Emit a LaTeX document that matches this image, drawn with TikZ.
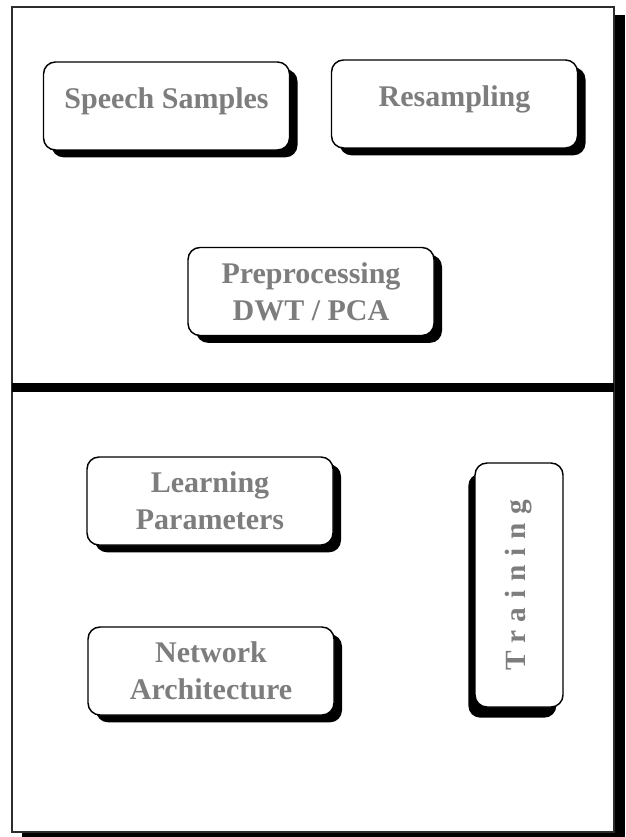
\documentclass[tikz,border=0pt]{standalone}
\usepackage{fontspec}
\setmainfont{Liberation Serif}
\usepackage{xcolor}
\usetikzlibrary{shadows}
\definecolor{LabelGray}{RGB}{125, 125, 125}
\definecolor{FrameDark}{RGB}{45, 45, 45}

\begin{document}
\begin{tikzpicture}[x=0.75pt, y=-0.75pt,
    stagebox/.style={draw=black, line width=1.1pt, rounded corners=9pt, fill=white,
      minimum width=184.5pt, minimum height=66pt, align=center,
      font=\fontsize{22.5}{27.5}\selectfont\bfseries\color{LabelGray}},
    stage/.style={stagebox,
      drop shadow={shadow xshift=6pt, shadow yshift=-5.5pt, fill=black, opacity=1}},
    trainbox/.style={stagebox, minimum width=66pt, minimum height=183pt,
      drop shadow={shadow xshift=-5pt, shadow yshift=-8pt, fill=black, opacity=1}},
    oneline/.style={text depth=12pt}]
  \useasboundingbox (0,0) rectangle (625,837);
  % panel, its shadow and the divider
  \fill[black] (22,15) rectangle (625,837);
  \draw[FrameDark, fill=white, line width=0.9pt] (12,7) rectangle (614,832);
  \fill[black] (12,383) rectangle (614,392);
  % upper half
  \node[stage, oneline] (samples) at (166.5,106) {Speech Samples};
  \node[stage, oneline] (resample) at (454.5,104) {Resampling};
  \node[stage] (preproc) at (311,291.5) {Preprocessing\\DWT / PCA};
  % lower half
  \node[stage] (learnpar) at (210,501) {Learning\\Parameters};
  \node[stage] (netarch) at (211,671) {Network\\Architecture};
  \node[trainbox, font=\fontsize{22}{26}\selectfont\bfseries\color{LabelGray}] (training) at (519,585)
    {\rotatebox{90}{\addfontfeature{LetterSpace=30}Training}};
\end{tikzpicture}
\end{document}
